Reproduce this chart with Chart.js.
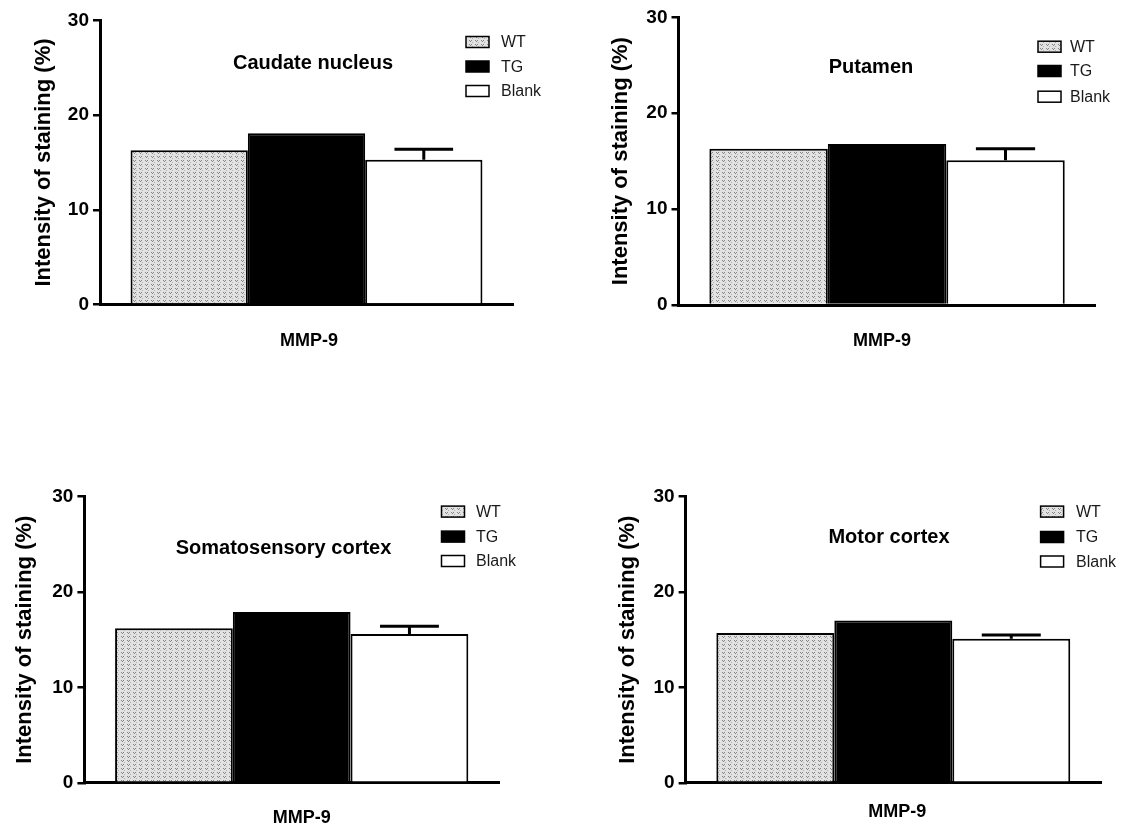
<!DOCTYPE html>
<html lang="en">
<head>
    <meta charset="UTF-8">
    <title>MMP-9 staining</title>
    <script src="https://cdn.jsdelivr.net/npm/chart.js"></script>
    <style>
        body { margin: 0; background: #fff; }
        #wrap { position: relative; width: 1131px; height: 832px; }
        canvas { position: absolute; }
    </style>
</head>
<body>
    <div id="wrap">
        <canvas id="c0" width="565" height="400" style="left:0;top:0"></canvas>
        <canvas id="c1" width="566" height="400" style="left:565px;top:0"></canvas>
        <canvas id="c2" width="565" height="416" style="left:0;top:416px"></canvas>
        <canvas id="c3" width="566" height="416" style="left:565px;top:416px"></canvas>
    </div>

    <script>
        // datos
        const categories = ['MMP-9'];
        const seriesNames = ['WT', 'TG', 'Blank'];
        const panelTitles = ['Caudate nucleus', 'Putamen', 'Somatosensory cortex', 'Motor cortex'];
        const wtValues = [16.3, 16.3, 16.2, 15.7];
        const tgValues = [18.1, 16.8, 17.9, 17.0];
        const blankValues = [15.3, 15.1, 15.6, 15.1];
        const blankErrors = [1.1, 1.2, 0.8, 0.4];
        const yTicks = [0, 10, 20, 30];
        const yTitle = 'Intensity of staining (%)';

        // posiciones de cada panel (relativas a su canvas)
        const layouts = [
            { left: 100, top: 20.5, bottom: 304.5, right: 513, ch: 400, cw: 565,
              titleX: 313, titleY: 63, legX: 466, legY: [42, 66.5, 91], legText: 501,
              xPad: 25.5, xOff: 2.5, yTitlePad: 31 },
            { left: 113.5, top: 17.3, bottom: 305, right: 530.6, ch: 400, cw: 566,
              titleX: 306, titleY: 67.5, legX: 473, legY: [46.7, 71, 96.7], legText: 505,
              xPad: 25, xOff: -5, yTitlePad: 43 },
            { left: 84.4, top: 80.6, bottom: 366.8, right: 499, ch: 416, cw: 565,
              titleX: 283.5, titleY: 132, legX: 441.5, legY: [95.6, 120.6, 145], legText: 476,
              xPad: 24, xOff: 10, yTitlePad: 12 },
            { left: 120.6, top: 80.6, bottom: 366.8, right: 536, ch: 416, cw: 566,
              titleX: 324, titleY: 121.5, legX: 475.6, legY: [95.6, 121, 145.5], legText: 511,
              xPad: 18, xOff: 4, yTitlePad: 50 }
        ];

        const FONT = '"Liberation Sans", Arial, sans-serif';
        Chart.defaults.font.family = FONT;
        Chart.defaults.color = '#000';

        // textura punteada del WT
        function makePattern() {
            const c = document.createElement('canvas');
            c.width = 6; c.height = 4;
            const g = c.getContext('2d');
            g.fillStyle = '#e2e2e2';
            g.fillRect(0, 0, 6, 4);
            g.fillStyle = '#858585';
            g.fillRect(1, 0, 1, 1);
            g.fillRect(3, 0, 1, 1);
            g.fillRect(2, 1, 1, 1);
            g.fillStyle = '#b0b0b0';
            g.fillRect(4, 2, 1, 1);
            return g.createPattern(c, 'repeat');
        }

        const hatch = makePattern();
        const fills = [hatch, '#000000', '#ffffff'];

        const extrasPlugin = {
            id: 'extras',
            afterDatasetsDraw(chart, args, opts) {
                const ctx = chart.ctx;
                const i = opts.panel;
                const L = layouts[i];
                const yScale = chart.scales.y;

                // barra de error (solo hacia arriba) del Blank
                const bar = chart.getDatasetMeta(2).data[0];
                const yTop = yScale.getPixelForValue(blankValues[i] + blankErrors[i]);
                const half = bar.width / 4;
                ctx.save();
                ctx.strokeStyle = '#000';
                ctx.lineWidth = 3;
                ctx.beginPath();
                ctx.moveTo(bar.x, bar.y);
                ctx.lineTo(bar.x, yTop);
                ctx.moveTo(bar.x - half, yTop);
                ctx.lineTo(bar.x + half, yTop);
                ctx.stroke();

                // titulo del panel
                ctx.fillStyle = '#000';
                ctx.font = 'bold 20px ' + FONT;
                ctx.textAlign = 'center';
                ctx.textBaseline = 'middle';
                ctx.fillText(panelTitles[i], L.titleX, L.titleY);

                // leyenda
                ctx.font = '16px ' + FONT;
                ctx.textAlign = 'left';
                seriesNames.forEach((name, k) => {
                    const y = L.legY[k];
                    ctx.fillStyle = fills[k];
                    ctx.fillRect(L.legX, y - 5.5, 23, 11);
                    ctx.lineWidth = 1.5;
                    ctx.strokeStyle = '#000';
                    ctx.strokeRect(L.legX, y - 5.5, 23, 11);
                    ctx.fillStyle = '#1a1a1a';
                    ctx.fillText(name, L.legText, y + 1);
                });
                ctx.restore();
            }
        };

        function buildChart(i) {
            const L = layouts[i];
            const xH = 45;
            const values = [wtValues, tgValues, blankValues];
            const ctx = document.getElementById('c' + i).getContext('2d');
            new Chart(ctx, {
                type: 'bar',
                data: {
                    labels: categories,
                    datasets: seriesNames.map((name, k) => ({
                        label: name,
                        data: [values[k][i]],
                        backgroundColor: fills[k],
                        borderColor: '#000',
                        borderWidth: 2,
                        categoryPercentage: 0.852,
                        barPercentage: 1
                    }))
                },
                options: {
                    responsive: false,
                    animation: false,
                    devicePixelRatio: 1,
                    layout: {
                        padding: {
                            left: 0,
                            top: L.top,
                            right: L.cw - L.right,
                            bottom: L.ch - L.bottom - xH
                        }
                    },
                    plugins: {
                        legend: { display: false },
                        tooltip: { enabled: false },
                        extras: { panel: i }
                    },
                    scales: {
                        x: {
                            grid: { display: false, drawTicks: false },
                            border: { display: true, color: '#000', width: 3 },
                            ticks: {
                                padding: L.xPad,
                                labelOffset: L.xOff,
                                color: '#000',
                                font: { size: 18, weight: 'bold' }
                            },
                            afterFit: s => { s.height = xH; }
                        },
                        y: {
                            min: yTicks[0],
                            max: yTicks[yTicks.length - 1],
                            afterBuildTicks: s => { s.ticks = yTicks.map(v => ({ value: v })); },
                            grid: {
                                drawOnChartArea: false,
                                drawTicks: true,
                                tickLength: 7,
                                tickColor: '#000',
                                lineWidth: 2.5
                            },
                            border: { display: true, color: '#000', width: 3 },
                            ticks: {
                                padding: 4,
                                color: '#000',
                                font: { size: 19, weight: 'bold' }
                            },
                            title: {
                                display: true,
                                text: yTitle,
                                color: '#000',
                                font: { size: 22, weight: 'bold' },
                                padding: { top: L.yTitlePad, bottom: 0 }
                            },
                            afterFit: s => { s.width = L.left; }
                        }
                    }
                },
                plugins: [extrasPlugin]
            });
        }

        for (let i = 0; i < 4; i++) buildChart(i);
    </script>
</body>
</html>
